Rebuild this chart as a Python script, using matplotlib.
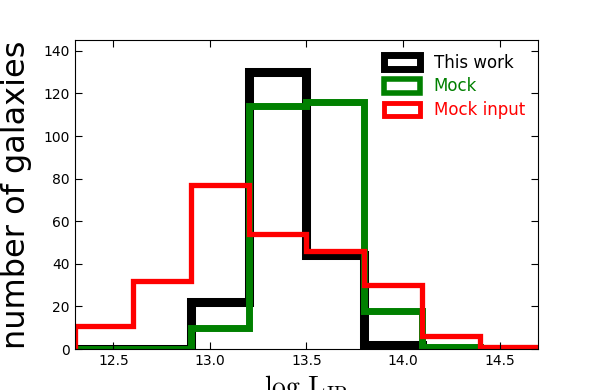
import matplotlib
matplotlib.use("Agg")
import matplotlib.pyplot as plt
from matplotlib.patches import Patch
import numpy as np

# bin edges in log L_IR and counts per bin
edges = [12.3, 12.6, 12.9, 13.2, 13.5, 13.8, 14.1, 14.4, 14.7]
this_work = [0, 0, 22, 130, 44, 2, 0, 0]
mock = [0, 0, 10, 114, 116, 18, 1, 0]
mock_input = [11, 32, 77, 54, 46, 30, 6, 1]

labels = ['This work', 'Mock', 'Mock input']
colors = ['black', 'green', 'red']
widths = [6.5, 5, 3.8]

plt.rcParams['mathtext.fontset'] = 'cm'

fig = plt.figure(figsize=(5.98, 3.9), dpi=100)
ax = fig.add_axes([0.125, 0.105, 0.775, 0.792])

for counts, c, lw in zip([this_work, mock, mock_input], colors, widths):
    ax.stairs(counts, edges, color=c, linewidth=lw)

ax.set_xlim(12.3, 14.7)
ax.set_ylim(0, 145)
ax.set_xticks([12.5, 13.0, 13.5, 14.0, 14.5])
ax.set_yticks(np.arange(0, 141, 20))
ax.tick_params(direction='in', top=True, right=True, labelsize=10, length=5)

ax.set_ylabel('number of galaxies', fontsize=23, labelpad=8)
ax.set_xlabel(r'$\mathrm{log\ L_{IR}}$', fontsize=20, labelpad=4)

# legend handles drawn as outlined boxes like the old step-histogram legend
handles = [Patch(facecolor='white', edgecolor=c, linewidth=lw)
           for c, lw in zip(colors, [5, 4, 3.5])]
leg = ax.legend(handles, labels, loc='upper right', frameon=False, fontsize=12,
                handlelength=2.2, handleheight=0.9, borderaxespad=0.4,
                labelspacing=0.35)
for txt, c in zip(leg.get_texts(), colors):
    txt.set_color(c)

fig.savefig('out.png', dpi=100)
